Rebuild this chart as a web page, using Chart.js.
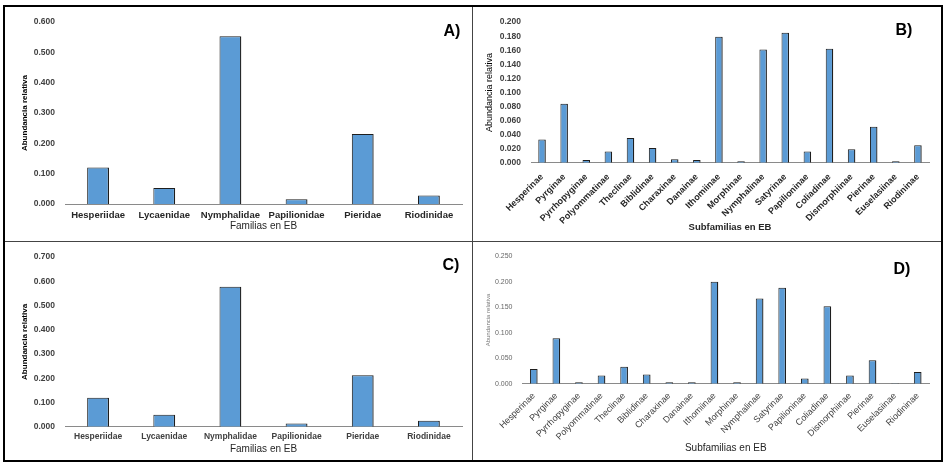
<!DOCTYPE html>
<html>
<head>
<meta charset="utf-8">
<script src="https://cdn.jsdelivr.net/npm/chart.js@4"></script>
<style>
body{margin:0;background:#fff;width:949px;height:468px;overflow:hidden;position:relative;font-family:"Liberation Sans",Arial,sans-serif;}
.frame{position:absolute;left:3px;top:5px;width:940px;height:457px;border:2.5px solid #000;box-sizing:border-box;}
.hline{position:absolute;left:5px;top:241px;width:936px;height:1px;background:#444;}
.vline{position:absolute;left:472px;top:7px;width:1px;height:453px;background:#444;}
.panel{position:absolute;}
.letra{position:absolute;font:bold 16px "Liberation Sans",Arial,sans-serif;color:#000;transform:translate(-50%,-50%);}
</style>
</head>
<body>
<div class="frame"></div>
<div class="hline"></div>
<div class="vline"></div>

<div class="panel" style="left:5px;top:7px;width:467px;height:234px"><canvas id="chartA"></canvas></div>
<div class="panel" style="left:473px;top:7px;width:468px;height:234px"><canvas id="chartB"></canvas></div>
<div class="panel" style="left:5px;top:242px;width:467px;height:219px"><canvas id="chartC"></canvas></div>
<div class="panel" style="left:473px;top:242px;width:468px;height:219px"><canvas id="chartD"></canvas></div>

<div class="letra" style="left:452px;top:31px">A)</div>
<div class="letra" style="left:904px;top:30px">B)</div>
<div class="letra" style="left:451px;top:265px">C)</div>
<div class="letra" style="left:902px;top:269px">D)</div>

<script>
/* =========================
   DATOS
========================= */

const familias = ["Hesperiidae","Lycaenidae","Nymphalidae","Papilionidae","Pieridae","Riodinidae"];

const subfamilias = ["Hesperinae","Pyrginae","Pyrrhopyginae","Polyommatinae","Theclinae","Biblidinae",
"Charaxinae","Danainae","Ithomiinae","Morphinae","Nymphalinae","Satyrinae","Papilioninae",
"Coliadinae","Dismorphiinae","Pierinae","Euselasiinae","Riodininae"];

const abundanciaA = [0.120,0.053,0.553,0.016,0.231,0.028];
const abundanciaB = [0.033,0.084,0.004,0.016,0.035,0.021,0.005,0.004,0.179,0.002,0.161,0.185,0.016,0.162,0.019,0.051,0.002,0.025];
const abundanciaC = [0.119,0.049,0.578,0.013,0.212,0.025];
const abundanciaD = [0.029,0.089,0.003,0.016,0.033,0.018,0.003,0.003,0.200,0.003,0.167,0.188,0.010,0.152,0.016,0.046,0.001,0.023];

/* ejes: [max, paso] */
const ejeA = [0.6,0.1];
const ejeB = [0.2,0.02];
const ejeC = [0.7,0.1];
const ejeD = [0.25,0.05];

const tituloY = "Abundancia relativa";
const tituloXA = "Familias en EB";
const tituloXB = "Subfamilias en EB";

/* =========================
   GRAFICO
========================= */

const FONT = "'Liberation Sans', Arial, sans-serif";

function panel(id, labels, valores, eje, o){
new Chart(document.getElementById(id), {
type: "bar",
data: {
labels: labels,
datasets: [{
data: valores,
backgroundColor: "#5B9BD5",
borderColor: "#1e1e1e",
borderWidth: {top:1,left:1,right:1.3,bottom:0},
borderSkipped: "start",
barPercentage: o.bar,
categoryPercentage: 1
}]
},
options: {
responsive: true,
maintainAspectRatio: false,
animation: false,
layout: {padding: {top: o.padTop, right: o.padRight, left: 0, bottom: 0}},
plugins: {legend: {display:false}, tooltip: {enabled:false}},
scales: {
x: {
grid: {display:false, drawTicks:false},
border: {display:true, color:"#8a8a8a", width:1},
ticks: {
color: o.xColor, font: {family:FONT, size:o.xSize, weight:o.xWeight},
padding: o.xPad, autoSkip:false,
maxRotation: o.rot, minRotation: o.rot
},
title: {display:true, text:o.xTitle, color:"#262626",
font:{family:FONT, size:o.xtSize, weight:o.xtWeight}, padding:{top:0,bottom:o.xtPad}},
afterFit: s => { s.height = o.xHeight; }
},
y: {
min: 0, max: eje[0],
grid: {display:false, drawTicks:false},
border: {display:false},
ticks: {
stepSize: eje[1],
color: o.yColor, font: {family:FONT, size:o.ySize, weight:o.yWeight},
padding: 10,
callback: v => v.toFixed(3)
},
title: {display:true, text:tituloY, color:o.ytColor,
font:{family:FONT, size:o.ytSize, weight:o.ytWeight}, padding:{top:o.ytPad,bottom:0}},
afterFit: s => { s.width = o.yWidth; }
}
}
}
});
}

panel("chartA", familias, abundanciaA, ejeA, {
bar:0.33, padTop:8.7, padRight:10, xHeight:37, yWidth:60,
xColor:"#262626", xSize:9.5, xWeight:"bold", xPad:6, rot:0,
xTitle:tituloXA, xtSize:10, xtWeight:"normal", xtPad:9,
yColor:"#404040", ySize:8.5, yWeight:"bold",
ytColor:"#000", ytSize:8, ytWeight:"bold", ytPad:15
});

panel("chartB", subfamilias, abundanciaB, ejeB, {
bar:0.34, padTop:8.7, padRight:12, xHeight:78.3, yWidth:58,
xColor:"#262626", xSize:9, xWeight:"bold", xPad:9, rot:45,
xTitle:tituloXB, xtSize:9.5, xtWeight:"bold", xtPad:8,
yColor:"#404040", ySize:8.5, yWeight:"bold",
ytColor:"#000", ytSize:9, ytWeight:"normal", ytPad:11.6
});

panel("chartC", familias, abundanciaC, ejeC, {
bar:0.33, padTop:8.7, padRight:10, xHeight:34.3, yWidth:60,
xColor:"#404040", xSize:8.5, xWeight:"bold", xPad:5, rot:0,
xTitle:tituloXA, xtSize:10, xtWeight:"normal", xtPad:6,
yColor:"#404040", ySize:8.5, yWeight:"bold",
ytColor:"#000", ytSize:8, ytWeight:"bold", ytPad:15
});

panel("chartD", subfamilias, abundanciaD, ejeD, {
bar:0.34, padTop:9.3, padRight:12, xHeight:77.3, yWidth:49.5,
xColor:"#404040", xSize:9, xWeight:"normal", xPad:7, rot:45,
xTitle:tituloXB, xtSize:10, xtWeight:"normal", xtPad:6.7,
yColor:"#666", ySize:7, yWeight:"normal",
ytColor:"#777", ytSize:6, ytWeight:"normal", ytPad:12
});
</script>
</body>
</html>
